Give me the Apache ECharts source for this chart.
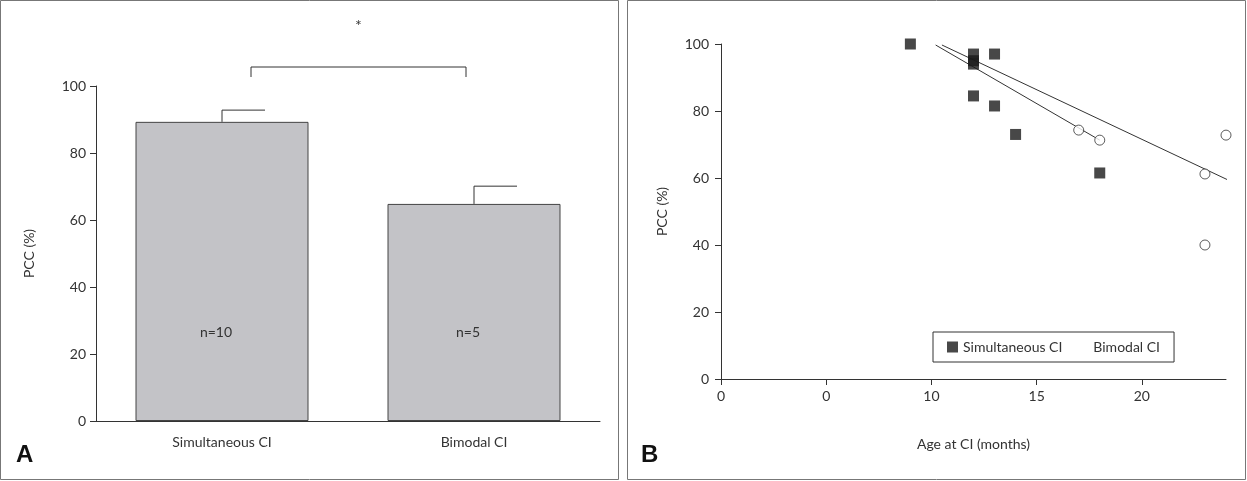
<!DOCTYPE html>
<html>
<head>
<meta charset="utf-8">
<script src="https://cdn.jsdelivr.net/npm/echarts@6/dist/echarts.min.js"></script>
<style>
  html, body { margin: 0; padding: 0; background: #fff; }
  #chart { width: 1247px; height: 481px; }
</style>
</head>
<body>
<div id="chart"></div>
<script>
// panel A
const groups = ["Simultaneous CI", "Bimodal CI"];
const meanPcc = [89.3, 64.8];
const upperErr = [92.8, 70.1];
const groupN = ["n=10", "n=5"];

// panel B
const simultaneousPts = [[9, 100], [12, 97], [12, 95], [12, 94], [12, 84.5], [13, 97], [13, 81.5], [14, 73], [15, 100.3], [18, 61.5]];
const bimodalPts = [[17, 74.3], [18, 71.3], [23, 61.2], [23, 40], [24, 72.8]];
const fitSimultaneous = [[10.5, 99.7], [24.1, 59.4]];
const fitBimodal = [[10.2, 99.7], [18.0, 71.3]];
const xTickLabels = { 0: "0", 5: "0", 10: "10", 15: "15", 20: "20" };

const font = "Lato, 'Open Sans', sans-serif";
const txt = "#333";
const axisLine = { lineStyle: { color: "#333", width: 1 } };

const chart = echarts.init(document.getElementById("chart"));

chart.setOption({
  animation: false,
  textStyle: { fontFamily: font },
  grid: [
    { left: 96, right: 647, top: 86, bottom: 60 },
    { left: 721, right: 21, top: 44, bottom: 102 },
  ],
  legend: {
    left: 933, top: 332, width: 276, height: 24,
    padding: [8, 14, 8, 14],
    borderColor: "#333", borderWidth: 1,
    itemWidth: 11, itemHeight: 11, itemGap: 14,
    textStyle: { color: txt, fontSize: 14, fontFamily: font },
    data: [
      { name: "Simultaneous CI", icon: "rect" },
      { name: "Bimodal CI", icon: "emptyCircle" },
    ],
  },
  xAxis: [
    {
      gridIndex: 0, type: "category", data: groups,
      axisLine, axisTick: { alignWithLabel: true, length: 8, lineStyle: { color: "#333" } },
      axisLabel: { color: txt, fontSize: 14, margin: 14 },
    },
    {
      gridIndex: 1, type: "value", min: 0, max: 24, interval: 5,
      axisLine, axisTick: { length: 6, lineStyle: { color: "#333" } },
      splitLine: { show: false },
      axisLabel: { color: txt, fontSize: 14, margin: 10, showMaxLabel: false,
        formatter: (v) => xTickLabels[v] ?? "" },
      name: "Age at CI (months)", nameLocation: "middle", nameGap: 58,
      nameTextStyle: { color: txt, fontSize: 14, fontFamily: font },
    },
  ],
  yAxis: [
    {
      gridIndex: 0, type: "value", min: 0, max: 100, interval: 20,
      axisLine: { show: true, lineStyle: { color: "#333" } },
      axisTick: { show: true, length: 6, lineStyle: { color: "#333" } },
      splitLine: { show: false },
      axisLabel: { color: txt, fontSize: 14, margin: 10 },
      name: "PCC (%)", nameLocation: "middle", nameGap: 60,
      nameTextStyle: { color: txt, fontSize: 14, fontFamily: font },
    },
    {
      gridIndex: 1, type: "value", min: 0, max: 100, interval: 20,
      axisLine: { show: true, lineStyle: { color: "#333" } },
      axisTick: { show: true, length: 6, lineStyle: { color: "#333" } },
      splitLine: { show: false },
      axisLabel: { color: txt, fontSize: 14, margin: 12 },
      name: "PCC (%)", nameLocation: "middle", nameGap: 52,
      nameTextStyle: { color: txt, fontSize: 14, fontFamily: font },
    },
  ],
  series: [
    {
      type: "bar", xAxisIndex: 0, yAxisIndex: 0, barWidth: 173,
      data: meanPcc.map((v, i) => ({ value: v, label: { formatter: groupN[i] } })),
      itemStyle: { color: "#c3c3c7", borderColor: "#444", borderWidth: 1 },
      label: { show: true, position: [0, 0], color: txt, fontSize: 14,
        offset: [0, 0] },
    },
    {
      type: "custom", xAxisIndex: 0, yAxisIndex: 0,
      data: groups.map((g, i) => [i, meanPcc[i], upperErr[i]]),
      renderItem: (params, api) => {
        const base = api.coord([api.value(0), api.value(1)]);
        const top = api.coord([api.value(0), api.value(2)]);
        const ns = api.coord([api.value(0), 26.5]);
        return {
          type: "group",
          children: [
            { type: "line", shape: { x1: base[0], y1: base[1], x2: top[0], y2: top[1] }, style: { stroke: "#333", lineWidth: 1 } },
            { type: "line", shape: { x1: top[0], y1: top[1], x2: top[0] + 43, y2: top[1] }, style: { stroke: "#333", lineWidth: 1 } },
            { type: "text", x: ns[0] - 6, y: ns[1], style: { text: groupN[params.dataIndex], fill: txt, font: "14px " + font, align: "center", verticalAlign: "middle" } },
          ],
        };
      },
      z: 5,
    },
    {
      name: "Simultaneous CI", type: "scatter", xAxisIndex: 1, yAxisIndex: 1,
      data: simultaneousPts, symbol: "rect", symbolSize: 11,
      itemStyle: { color: "#1a1a1a" }, z: 4,
    },
    {
      name: "Bimodal CI", type: "scatter", xAxisIndex: 1, yAxisIndex: 1,
      data: bimodalPts, symbol: "circle", symbolSize: 10,
      itemStyle: { color: "#fff", borderColor: "#333", borderWidth: 1 }, z: 4,
    },
    {
      type: "line", xAxisIndex: 1, yAxisIndex: 1, data: fitSimultaneous,
      showSymbol: false, lineStyle: { color: "#333", width: 1 }, z: 3,
    },
    {
      type: "line", xAxisIndex: 1, yAxisIndex: 1, data: fitBimodal,
      showSymbol: false, lineStyle: { color: "#333", width: 1 }, z: 3,
    },
  ],
});

// remove default bar labels (drawn by custom series instead)
chart.setOption({ series: [{ label: { show: false } }] });

// significance bracket and panel frames
const bx1 = chart.convertToPixel({ xAxisIndex: 0 }, 0) + 29;
const bx2 = chart.convertToPixel({ xAxisIndex: 0 }, 1) - 8;
chart.setOption({
  graphic: [
    { type: "rect", shape: { x: 0.5, y: 0.5, width: 618, height: 479 }, style: { fill: null, stroke: "#777", lineWidth: 1 } },
    { type: "rect", shape: { x: 627.5, y: 0.5, width: 618, height: 479 }, style: { fill: null, stroke: "#777", lineWidth: 1 } },
    { type: "polyline", shape: { points: [[bx1, 77], [bx1, 67], [bx2, 67], [bx2, 77]] }, style: { fill: null, stroke: "#333", lineWidth: 1 } },
    { type: "text", x: (bx1 + bx2) / 2, y: 18, style: { text: "*", fill: txt, font: "16px " + font, align: "center" } },
    { type: "text", x: 16, y: 443, style: { text: "A", fill: "#111", font: "bold 24px Arial, 'Liberation Sans', sans-serif" } },
    { type: "text", x: 641, y: 443, style: { text: "B", fill: "#111", font: "bold 24px Arial, 'Liberation Sans', sans-serif" } },
  ],
});
</script>
</body>
</html>
